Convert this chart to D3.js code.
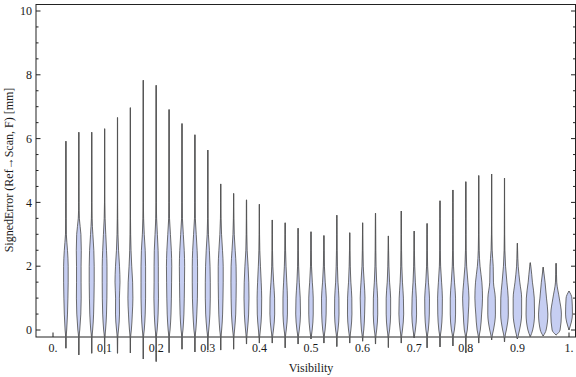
<!DOCTYPE html>
<html>
<head>
<meta charset="utf-8">
<script src="https://cdn.jsdelivr.net/npm/d3@7"></script>
<style>
  body { margin: 0; background: #fff; }
  text { font-family: "Liberation Serif", "DejaVu Serif", serif; font-size: 12px; fill: #1a1a1a; }
</style>
</head>
<body>
<div id="chart"></div>
<script>
// visibility bins (centre of each violin)
var visibility = [0.025, 0.05, 0.075, 0.1, 0.125, 0.15, 0.175, 0.2, 0.225, 0.25,
  0.275, 0.3, 0.325, 0.35, 0.375, 0.4, 0.425, 0.45, 0.475, 0.5,
  0.525, 0.55, 0.575, 0.6, 0.625, 0.65, 0.675, 0.7, 0.725, 0.75,
  0.775, 0.8, 0.825, 0.85, 0.875, 0.9, 0.925, 0.95, 0.975, 1.0];

// extent of each distribution (tail ends), mm
var errMax = [5.92, 6.2, 6.2, 6.31, 6.66, 6.97, 7.83, 7.67, 6.91, 6.47,
  6.12, 5.64, 4.58, 4.28, 4.08, 3.94, 3.45, 3.36, 3.19, 3.08,
  2.96, 3.6, 3.05, 3.36, 3.66, 2.95, 3.73, 3.1, 3.34, 4.05,
  4.39, 4.65, 4.84, 4.89, 4.76, 2.72, 2.11, 1.97, 2.09, 1.22];
var errMin = [-0.57, -0.78, -0.73, -0.75, -0.73, -0.72, -0.91, -0.99, -0.71, -0.6,
  -0.69, -0.63, -0.63, -0.6, -0.44, -0.41, -0.41, -0.56, -0.44, -0.28,
  -0.41, -0.52, -0.41, -0.35, -0.44, -0.55, -0.41, -0.25, -0.56, -0.53,
  -0.5, -0.72, -0.41, -0.31, -0.37, -0.28, -0.21, -0.19, -0.16, 0.0];

// relative density at these error levels
var densityLevels = [-0.25, 0, 0.5, 1, 1.5, 2, 2.5, 3, 3.5, 4];
var densities = [
  [0.03, 0.15, 0.3, 0.38, 0.43, 0.43, 0.3, 0.08, 0.02, 0.01],
  [0.03, 0.18, 0.38, 0.45, 0.43, 0.43, 0.47, 0.4, 0.1, 0.02],
  [0.03, 0.18, 0.36, 0.43, 0.47, 0.47, 0.4, 0.22, 0.06, 0.02],
  [0.03, 0.18, 0.36, 0.43, 0.45, 0.45, 0.36, 0.22, 0.08, 0.02],
  [0.03, 0.18, 0.38, 0.36, 0.47, 0.38, 0.2, 0.08, 0.03, 0.01],
  [0.03, 0.18, 0.36, 0.47, 0.42, 0.25, 0.12, 0.05, 0.02, 0.01],
  [0.03, 0.18, 0.36, 0.43, 0.43, 0.43, 0.36, 0.18, 0.06, 0.02],
  [0.03, 0.18, 0.36, 0.43, 0.4, 0.4, 0.36, 0.22, 0.08, 0.02],
  [0.03, 0.18, 0.36, 0.43, 0.47, 0.5, 0.42, 0.25, 0.08, 0.02],
  [0.03, 0.18, 0.36, 0.43, 0.47, 0.5, 0.42, 0.25, 0.08, 0.02],
  [0.03, 0.18, 0.36, 0.47, 0.5, 0.5, 0.42, 0.25, 0.08, 0.02],
  [0.03, 0.18, 0.4, 0.47, 0.47, 0.42, 0.3, 0.12, 0.04, 0.01],
  [0.03, 0.18, 0.36, 0.43, 0.47, 0.47, 0.34, 0.16, 0.05, 0.01],
  [0.03, 0.18, 0.4, 0.47, 0.5, 0.47, 0.3, 0.12, 0.04, 0.01],
  [0.03, 0.18, 0.4, 0.47, 0.43, 0.3, 0.12, 0.05, 0.02, 0.01],
  [0.03, 0.18, 0.4, 0.43, 0.34, 0.2, 0.08, 0.03, 0.01, 0],
  [0.03, 0.22, 0.45, 0.43, 0.25, 0.1, 0.04, 0.02, 0.01, 0],
  [0.03, 0.2, 0.42, 0.42, 0.3, 0.16, 0.07, 0.03, 0.01, 0],
  [0.03, 0.22, 0.45, 0.4, 0.22, 0.1, 0.04, 0.02, 0.01, 0],
  [0.03, 0.22, 0.42, 0.42, 0.25, 0.1, 0.04, 0.02, 0.01, 0],
  [0.03, 0.22, 0.42, 0.45, 0.25, 0.1, 0.04, 0.02, 0, 0],
  [0.03, 0.22, 0.42, 0.4, 0.22, 0.12, 0.06, 0.03, 0.01, 0],
  [0.03, 0.22, 0.42, 0.4, 0.22, 0.1, 0.04, 0.02, 0.01, 0],
  [0.03, 0.22, 0.38, 0.45, 0.3, 0.12, 0.05, 0.02, 0.01, 0],
  [0.03, 0.22, 0.42, 0.4, 0.22, 0.1, 0.05, 0.03, 0.01, 0],
  [0.03, 0.22, 0.42, 0.42, 0.22, 0.1, 0.04, 0.02, 0, 0],
  [0.03, 0.22, 0.45, 0.4, 0.22, 0.1, 0.05, 0.03, 0.01, 0],
  [0.03, 0.22, 0.45, 0.4, 0.22, 0.1, 0.04, 0.02, 0.01, 0],
  [0.03, 0.22, 0.42, 0.45, 0.25, 0.1, 0.04, 0.02, 0.01, 0],
  [0.03, 0.22, 0.42, 0.45, 0.3, 0.12, 0.05, 0.02, 0.01, 0],
  [0.03, 0.28, 0.5, 0.5, 0.3, 0.12, 0.05, 0.02, 0.01, 0],
  [0.03, 0.28, 0.47, 0.6, 0.4, 0.16, 0.06, 0.02, 0.01, 0],
  [0.03, 0.3, 0.55, 0.72, 0.6, 0.25, 0.08, 0.03, 0.01, 0],
  [0.03, 0.35, 0.72, 0.7, 0.35, 0.3, 0.1, 0.03, 0.01, 0],
  [0.04, 0.35, 0.72, 0.7, 0.45, 0.2, 0.06, 0.02, 0.01, 0],
  [0.05, 0.4, 0.8, 0.8, 0.45, 0.15, 0.04, 0.01, 0, 0],
  [0.06, 0.45, 0.8, 0.75, 0.4, 0.1, 0.03, 0, 0, 0],
  [0.06, 0.55, 0.88, 0.62, 0.35, 0.08, 0.02, 0, 0, 0],
  [0.08, 0.75, 1.0, 0.6, 0.12, 0.03, 0, 0, 0, 0],
  [0, 0, 0.65, 0.55, 0, 0, 0, 0, 0, 0]
];

var xTicks = [0, 0.1, 0.2, 0.3, 0.4, 0.5, 0.6, 0.7, 0.8, 0.9, 1];
var xTickLabels = ["0.", "0.1", "0.2", "0.3", "0.4", "0.5", "0.6", "0.7", "0.8", "0.9", "1."];
var yTicks = [0, 2, 4, 6, 8, 10];

var w = 576;
var h = 377;
var frame = { left: 36, right: 575.5, top: 4.5, bottom: 337 };

var svg = d3.select("#chart").append("svg").attr("width", w).attr("height", h);

var xScale = d3.scaleLinear().domain([0, 1]).range([53, 569]);
var yScale = d3.scaleLinear().domain([0, 10]).range([330, 11]);
var wScale = d3.scaleLinear().domain([0, 1]).range([0, 5.3]);

// frame
svg.append("rect")
  .attr("x", frame.left).attr("y", frame.top)
  .attr("width", frame.right - frame.left).attr("height", frame.bottom - frame.top)
  .attr("fill", "none").attr("stroke", "#222").attr("stroke-width", 1);

// y ticks (left + mirrored right)
var minor = d3.range(0, 10.01, 0.5).filter(function (v) { return v % 2 !== 0; });
var tickG = svg.append("g").attr("stroke", "#222").attr("stroke-width", 1);
yTicks.forEach(function (v) {
  tickG.append("line").attr("x1", frame.left).attr("x2", frame.left + 4.5)
    .attr("y1", yScale(v)).attr("y2", yScale(v));
  tickG.append("line").attr("x1", frame.right).attr("x2", frame.right - 4.5)
    .attr("y1", yScale(v)).attr("y2", yScale(v));
});
minor.forEach(function (v) {
  tickG.append("line").attr("x1", frame.left).attr("x2", frame.left + 2.5)
    .attr("y1", yScale(v)).attr("y2", yScale(v));
  tickG.append("line").attr("x1", frame.right).attr("x2", frame.right - 2.5)
    .attr("y1", yScale(v)).attr("y2", yScale(v));
});
xTicks.forEach(function (v) {
  tickG.append("line").attr("x1", xScale(v)).attr("x2", xScale(v))
    .attr("y1", frame.bottom).attr("y2", frame.bottom - 4.5);
});

svg.selectAll(".ylab")
  .data(yTicks)
  .enter()
  .append("text")
  .attr("class", "ylab")
  .attr("x", 32)
  .attr("y", function (d) { return yScale(d); })
  .attr("dy", "0.35em")
  .attr("text-anchor", "end")
  .text(function (d) { return d; });

svg.selectAll(".xlab")
  .data(xTicks)
  .enter()
  .append("text")
  .attr("class", "xlab")
  .attr("x", function (d) { return xScale(d); })
  .attr("y", 352)
  .attr("text-anchor", "middle")
  .text(function (d, i) { return xTickLabels[i]; });

// axis titles
svg.append("text")
  .attr("x", 311).attr("y", 372)
  .attr("text-anchor", "middle")
  .text("Visibility");

svg.append("text")
  .attr("transform", "translate(13,170) rotate(-90)")
  .attr("text-anchor", "middle")
  .text("SignedError (Ref\u2192Scan, F) [mm]");

// violins
var violins = visibility.map(function (v, i) {
  var pts = [{ v: errMin[i], d: 0 }];
  densityLevels.forEach(function (lv, j) {
    if (lv > errMin[i] && lv < errMax[i]) pts.push({ v: lv, d: densities[i][j] });
  });
  pts.push({ v: errMax[i], d: 0 });
  return { x: v, lo: errMin[i], hi: errMax[i], pts: pts };
});

var g = svg.selectAll(".violin")
  .data(violins)
  .enter()
  .append("g")
  .attr("class", "violin");

g.append("line")
  .attr("x1", function (d) { return xScale(d.x); })
  .attr("x2", function (d) { return xScale(d.x); })
  .attr("y1", function (d) { return yScale(d.lo); })
  .attr("y2", function (d) { return yScale(d.hi); })
  .attr("stroke", "#505050")
  .attr("stroke-width", 1.2)
  .attr("stroke-opacity", 0.9);

g.append("path")
  .attr("d", function (d) {
    var cx = xScale(d.x);
    return d3.area()
      .curve(d3.curveMonotoneY)
      .y(function (p) { return yScale(p.v); })
      .x0(function (p) { return cx - wScale(p.d); })
      .x1(function (p) { return cx + wScale(p.d); })(d.pts);
  })
  .attr("fill", "#c6cef2")
  .attr("stroke", "#555")
  .attr("stroke-width", 1)
  .attr("stroke-opacity", 0.85);
</script>
</body>
</html>
